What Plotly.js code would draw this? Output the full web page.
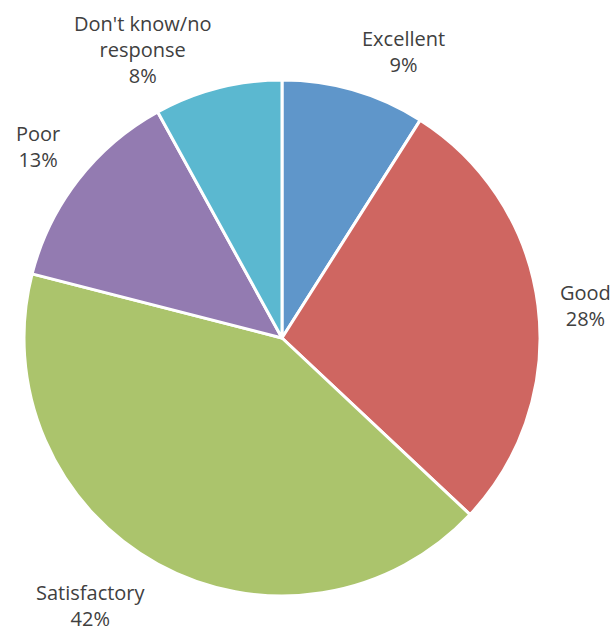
<!DOCTYPE html>
<html>
<head>
<meta charset="utf-8">
<script src="https://cdn.plot.ly/plotly-3.0.1.min.js"></script>
<style>html,body{margin:0;padding:0;background:#fff;}#chart{width:615px;height:631px;}</style>
</head>
<body>
<div id="chart"></div>
<script>
const categories = ["Excellent", "Good", "Satisfactory", "Poor", "Don't know/no<br>response"];
const values = [9, 28, 42, 13, 8];
const colors = ["#5F96CA", "#CF6661", "#ABC46C", "#937BB1", "#5BB8D0"];

const W = 615, H = 631;
const cx = 282, cy = 338, R = 258;   // pie geometry in pixels
const labelRx = 278, labelRy = 272;  // label anchor ellipse
const halfH = 27;                    // half height of a two-line label

const total = values.reduce((a, b) => a + b, 0);
const annotations = [];
let cum = 0;
values.forEach((v, i) => {
  const mid = (cum + v / 2) / total * 2 * Math.PI;
  cum += v;
  const s = Math.sin(mid), c = Math.cos(mid);
  const px = cx + labelRx * s;
  let py = cy - labelRy * c + 2;
  if (c > 0.2) py -= halfH; else if (c < -0.2) py += halfH;
  const pct = Math.round(v / total * 100) + '%';
  annotations.push({
    xref: 'paper', yref: 'paper',
    x: px / W, y: 1 - py / H,
    xanchor: s > 0.05 ? 'left' : (s < -0.05 ? 'right' : 'center'),
    yanchor: 'middle',
    text: categories[i] + '<br>' + pct,
    showarrow: false, align: 'center',
    font: {family: 'Open Sans, sans-serif', size: 20, color: '#404040'}
  });
});

const trace = {
  type: 'pie',
  labels: categories,
  values: values,
  sort: false,
  direction: 'clockwise',
  rotation: 0,
  textinfo: 'none',
  hoverinfo: 'label+percent',
  marker: {colors: colors, line: {color: '#ffffff', width: 3}},
  domain: {x: [(cx - R) / W, (cx + R) / W], y: [1 - (cy + R) / H, 1 - (cy - R) / H]}
};

Plotly.newPlot('chart', [trace], {
  width: W, height: H,
  margin: {l: 0, r: 0, t: 0, b: 0},
  showlegend: false,
  paper_bgcolor: '#ffffff',
  annotations: annotations
}, {displayModeBar: false, staticPlot: true});
</script>
</body>
</html>
